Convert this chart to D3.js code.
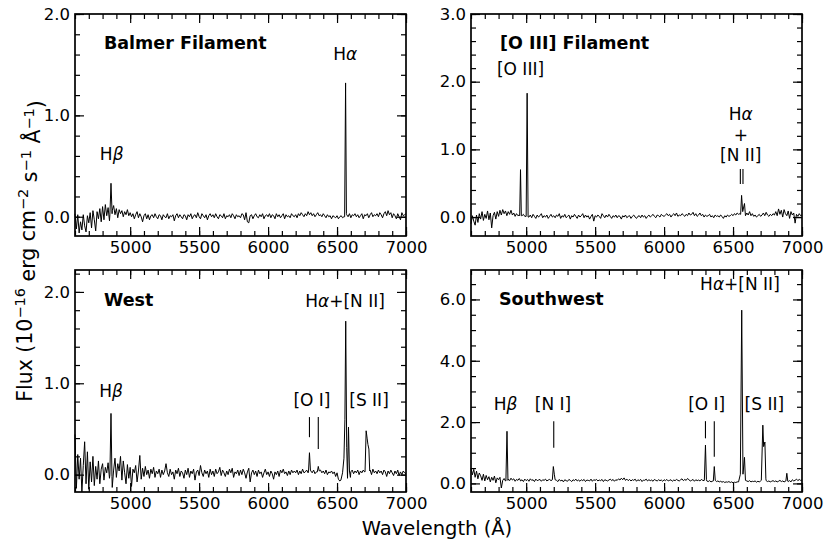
<!DOCTYPE html>
<html>
<head>
<meta charset="utf-8">
<script src="https://cdn.jsdelivr.net/npm/d3@7"></script>
<style>
  body { margin: 0; background: #fff; }
  text { font-family: "DejaVu Sans", sans-serif; fill: #000; }
</style>
</head>
<body>
<div id="chart"></div>
<script>
// Continuum samples: one value every 10 A starting at 4600 A (241 per spectrum)
const waveStart = 4600, waveStep = 10;

const balmerFlux = [
  0.03, -0.12, 0.02, -0.16, -0.05, -0.13, 0.02, -0.09, -0.15, 0.01, -0.06, 0.04, -0.11, 0.06, -0.03, -0.14, 0.05, -0.02, 0.08, -0.05,
  0.10, -0.03, 0.12, 0.01, 0.09, -0.04, 0.00, 0.06, 0.11, 0.02, 0.08, -0.01, 0.07, 0.03, 0.06, 0.00, 0.05, 0.02, 0.07, 0.01,
  0.04, 0.00, 0.03, -0.02, 0.02, 0.05, -0.01, 0.03, 0.00, -0.05, 0.01, 0.03, -0.02, 0.02, -0.03, 0.01, 0.02, -0.01, 0.03, 0.00,
  -0.02, 0.02, 0.01, -0.03, 0.02, 0.00, -0.01, 0.03, -0.02, 0.01, 0.00, 0.02, -0.04, 0.01, 0.03, -0.01, 0.02, 0.00, -0.02, 0.02,
  0.01, -0.03, 0.02, 0.00, 0.03, -0.02, 0.01, 0.02, -0.01, 0.04, 0.00, -0.02, 0.03, 0.01, -0.01, 0.02, -0.03, 0.01, 0.03, 0.00,
  0.02, -0.01, 0.03, 0.00, -0.02, 0.02, 0.01, -0.01, 0.03, -0.02, 0.01, 0.00, 0.02, -0.01, 0.03, 0.01, -0.02, 0.02, 0.00, 0.01,
  -0.01, 0.03, 0.02, -0.03, 0.04, -0.05, -0.06, 0.01, 0.02, -0.02, 0.01, 0.03, 0.00, -0.01, 0.02, 0.00, 0.03, -0.02, 0.01, 0.02,
  0.00, 0.03, -0.01, 0.02, 0.01, -0.02, 0.03, 0.00, 0.02, -0.01, 0.01, 0.03, -0.02, 0.02, 0.00, 0.01, -0.01, 0.03, 0.01, 0.00,
  0.02, -0.01, 0.03, 0.01, 0.04, 0.02, 0.00, 0.03, 0.01, 0.05, 0.02, 0.04, 0.01, 0.03, 0.00, 0.02, 0.04, 0.01, 0.02, 0.00,
  0.03, 0.01, -0.01, 0.02, 0.00, 0.01, -0.02, 0.01, 0.00, -0.01, 0.01, -0.02, 0.00, 0.01, -0.01, 0.00, 0.00, 0.02, 0.00, 0.03,
  -0.01, 0.02, 0.01, 0.03, 0.00, 0.02, -0.01, 0.01, 0.03, -0.02, 0.02, 0.01, 0.03, -0.01, 0.02, 0.04, 0.00, 0.02, 0.01, 0.03,
  0.00, 0.04, 0.02, -0.01, 0.03, 0.05, 0.01, 0.06, 0.02, 0.04, -0.01, 0.03, 0.01, -0.02, 0.03, 0.00, -0.03, 0.04, 0.01, 0.02,
  0.03
];
const balmerLines = [
  [[4853, 0.02], [4861, 0.33], [4869, 0.03]],
  [[6555, 0.00], [6562, 1.32], [6568, 0.03]]
];

const oiiiFlux = [
  -0.10, 0.02, -0.06, -0.12, 0.03, -0.08, 0.05, -0.03, 0.08, -0.05, 0.04, -0.02, 0.09, -0.04, 0.06, -0.16, 0.02, 0.07, -0.03, 0.08,
  0.01, 0.10, 0.03, 0.11, 0.05, 0.09, 0.02, 0.08, 0.04, 0.10, 0.03, 0.06, 0.01, 0.05, 0.02, 0.03, 0.00, 0.02, 0.04, 0.01,
  0.00, 0.00, 0.00, 0.03, -0.01, 0.04, 0.01, -0.02, 0.03, 0.00, 0.02, 0.05, -0.01, 0.02, 0.00, 0.03, -0.02, 0.01, 0.04, 0.00,
  0.02, -0.01, 0.03, 0.01, 0.05, -0.02, 0.02, 0.00, 0.04, -0.01, 0.01, 0.03, -0.03, 0.02, 0.00, 0.04, 0.01, -0.02, 0.03, 0.00,
  0.02, 0.05, -0.01, 0.03, 0.00, 0.02, -0.03, 0.01, 0.04, -0.06, 0.02, 0.00, 0.03, 0.01, -0.02, 0.05, 0.02, -0.01, 0.03, 0.00,
  0.04, 0.01, -0.02, 0.02, 0.00, 0.03, -0.01, 0.02, 0.01, -0.03, 0.02, 0.00, 0.03, -0.01, 0.01, 0.02, -0.02, 0.01, 0.03, 0.00,
  -0.02, 0.01, 0.02, -0.01, 0.03, 0.00, 0.02, -0.02, 0.01, 0.03, 0.00, 0.02, 0.04, 0.01, -0.01, 0.03, 0.02, 0.00, 0.04, 0.02,
  0.01, 0.03, 0.05, 0.02, 0.04, 0.00, 0.03, 0.05, 0.02, 0.06, 0.01, 0.03, 0.02, 0.05, 0.03, 0.01, 0.04, 0.02, 0.06, 0.03,
  0.04, 0.07, 0.02, 0.05, 0.01, 0.03, 0.06, 0.02, 0.04, 0.00, 0.03, 0.01, 0.02, 0.04, 0.00, 0.02, -0.01, 0.03, 0.01, 0.02,
  0.00, 0.03, 0.01, -0.02, 0.02, 0.00, 0.03, 0.01, 0.02, 0.04, 0.02, 0.05, 0.03, 0.06, 0.04, 0.05, 0.00, 0.00, 0.00, 0.00,
  0.06, 0.03, 0.08, 0.02, 0.05, 0.01, 0.03, 0.00, 0.02, 0.04, 0.01, 0.03, 0.06, 0.02, 0.07, 0.03, 0.01, 0.04, 0.02, 0.05,
  0.03, 0.08, 0.02, 0.12, 0.04, 0.10, 0.00, 0.11, 0.05, 0.02, 0.09, -0.02, 0.08, 0.03, 0.06, -0.09, 0.04, 0.01, 0.05, 0.02,
  0.03
];
const oiiiLines = [
  [[4953, 0.02], [4959, 0.70], [4965, 0.02]],
  [[5000, 0.01], [5007, 1.83], [5014, 0.00]],
  [[6555, 0.04], [6562, 0.32], [6570, 0.08], [6583, 0.20], [6590, 0.02]]
];

const westFlux = [
  0.44, -0.15, 0.22, -0.05, 0.18, -0.20, 0.10, 0.36, -0.10, 0.25, -0.16, 0.14, -0.08, 0.20, -0.12, 0.09, -0.05, 0.15, -0.10, 0.06,
  0.12, -0.06, 0.08, 0.02, 0.13, -0.04, 0.00, -0.14, 0.05, 0.18, -0.03, 0.12, 0.04, 0.20, -0.06, 0.15, 0.02, -0.10, 0.11, -0.04,
  0.08, -0.13, 0.06, 0.02, 0.10, -0.08, 0.04, 0.21, -0.05, 0.07, -0.02, 0.09, 0.00, 0.05, -0.04, 0.06, 0.01, 0.08, -0.03, 0.04,
  0.01, 0.06, -0.03, 0.05, 0.00, 0.04, 0.12, 0.02, -0.02, 0.06, 0.00, 0.03, -0.05, 0.05, 0.01, 0.07, -0.02, 0.04, 0.02, -0.04,
  0.05, 0.00, 0.07, -0.03, 0.04, 0.01, 0.06, -0.06, 0.03, 0.05, -0.01, 0.10, 0.02, -0.02, 0.05, 0.01, 0.04, -0.03, 0.06, 0.00,
  0.04, -0.02, 0.06, 0.01, 0.03, 0.08, -0.01, 0.05, 0.02, -0.02, 0.04, 0.00, 0.06, 0.02, 0.07, -0.03, 0.03, 0.01, 0.05, -0.01,
  0.05, 0.00, 0.06, 0.02, -0.04, 0.03, 0.07, -0.08, 0.02, 0.05, 0.00, 0.04, -0.02, 0.05, 0.01, 0.03, -0.03, 0.02, 0.06, 0.00,
  0.03, -0.02, 0.04, 0.01, -0.05, 0.03, 0.00, 0.04, -0.02, 0.05, 0.02, 0.06, 0.01, 0.03, -0.01, 0.04, 0.00, 0.05, 0.02, 0.04,
  0.02, 0.05, 0.00, 0.04, 0.01, 0.06, 0.02, 0.03, 0.05, 0.02, 0.00, 0.04, 0.02, 0.05, 0.01, 0.03, 0.00, 0.00, 0.05, 0.02,
  0.04, 0.01, 0.05, 0.00, 0.03, 0.02, 0.04, 0.01, 0.03, -0.02, 0.02, -0.05, -0.07, 0.00, 0.00, 0.00, 0.00, 0.00, 0.00, 0.00,
  0.03, 0.05, 0.01, 0.04, 0.02, 0.05, 0.00, 0.04, 0.02, 0.05, 0.03, 0.00, 0.00, 0.00, 0.05, 0.00, 0.06, 0.02, 0.04, 0.01,
  0.05, 0.02, 0.04, 0.00, 0.05, 0.03, -0.02, 0.04, 0.01, 0.05, 0.02, -0.01, 0.04, 0.01, 0.05, -0.01, 0.03, 0.00, 0.04, 0.02,
  0.01
];
const westLines = [
  [[4853, 0.00], [4861, 0.67], [4868, -0.02]],
  [[6293, 0.03], [6300, 0.24], [6307, 0.05]],
  [[6357, 0.03], [6364, 0.09], [6371, 0.04]],
  [[6528, -0.06], [6540, 0.02], [6550, 0.18], [6557, 0.60], [6563, 1.68],
   [6570, 0.30], [6576, -0.04], [6583, 0.52], [6590, 0.04], [6597, -0.03]],
  [[6703, 0.03], [6711, 0.48], [6718, 0.40], [6724, 0.33], [6731, 0.28], [6737, 0.04]]
];

const southwestFlux = [
  0.50, 0.28, 0.46, 0.20, 0.40, 0.15, 0.34, 0.25, 0.10, 0.30, 0.08, 0.26, 0.12, 0.22, 0.05, 0.20, 0.10, 0.24, 0.02, 0.18,
  0.12, 0.20, -0.15, 0.10, 0.16, 0.08, 0.00, 0.14, 0.09, 0.17, 0.11, 0.15, 0.07, 0.13, 0.10, 0.16, 0.08, 0.12, 0.06, 0.14,
  0.09, 0.13, 0.07, 0.15, 0.10, 0.12, 0.06, 0.14, 0.09, 0.11, 0.13, 0.07, 0.12, 0.10, 0.14, 0.08, 0.11, 0.13, 0.09, 0.00,
  0.00, 0.00, 0.10, 0.06, 0.13, 0.08, 0.11, 0.05, 0.12, 0.09, 0.07, 0.13, 0.10, 0.06, 0.12, 0.09, 0.14, 0.08, 0.11, 0.07,
  0.12, 0.09, 0.13, 0.06, 0.11, 0.10, 0.08, 0.14, 0.07, 0.12, 0.10, 0.13, 0.08, 0.11, 0.09, 0.13, 0.06, 0.12, 0.10, 0.08,
  0.11, 0.14, 0.09, 0.13, 0.07, 0.12, 0.10, 0.15, 0.11, 0.17, 0.12, 0.18, 0.10, 0.14, 0.09, 0.13, 0.08, 0.12, 0.10, 0.14,
  0.07, 0.12, 0.09, 0.13, 0.06, 0.11, 0.10, 0.14, 0.08, 0.12, 0.09, 0.11, 0.07, 0.13, 0.10, 0.08, 0.12, 0.09, 0.11, 0.07,
  0.12, 0.09, 0.13, 0.08, 0.10, 0.12, 0.07, 0.11, 0.09, 0.13, 0.10, 0.08, 0.12, 0.15, 0.09, 0.13, 0.10, 0.16, 0.12, 0.08,
  0.10, 0.13, 0.07, 0.12, 0.09, 0.11, 0.08, 0.13, 0.10, 0.09, 0.00, 0.08, 0.06, 0.09, 0.05, 0.07, 0.00, 0.00, 0.06, 0.08,
  0.05, 0.07, 0.04, 0.06, 0.03, 0.05, 0.04, 0.06, 0.03, 0.05, 0.02, 0.04, 0.03, 0.05, 0.00, 0.00, 0.00, 0.00, 0.00, 0.00,
  0.08, 0.06, 0.09, 0.05, 0.07, 0.06, 0.08, 0.04, 0.07, 0.05, 0.08, 0.00, 0.00, 0.00, 0.09, 0.06, 0.08, 0.05, 0.07, 0.09,
  0.06, 0.08, 0.05, 0.07, 0.10, 0.06, 0.08, 0.05, 0.07, 0.00, 0.06, 0.09, 0.05, 0.12, 0.08, 0.10, 0.14, 0.09, 0.13, 0.10,
  0.11
];
const southwestLines = [
  [[4853, 0.08], [4861, 1.70], [4868, 0.10]],
  [[5190, 0.12], [5197, 0.55], [5204, 0.30], [5210, 0.12]],
  [[6292, 0.10], [6300, 1.25], [6307, 0.12]],
  [[6357, 0.08], [6364, 0.55], [6371, 0.10]],
  [[6540, 0.05], [6553, 0.30], [6563, 5.65], [6572, 0.30], [6583, 0.85], [6590, 0.10]],
  [[6705, 0.10], [6716, 1.90], [6722, 1.20], [6731, 1.35], [6738, 0.15]],
  [[6883, 0.08], [6890, 0.33], [6897, 0.07]]
];

// Axis ticks
const waveMajor = [5000, 5500, 6000, 6500, 7000];
const waveMinor = d3.range(4600, 7001, 100);

// Merge continuum and line profiles into one sorted spectrum
function buildSpectrum(flux, lines) {
  const pts = flux.map((f, i) => [waveStart + i * waveStep, f])
    .filter(p => !lines.some(g => p[0] >= g[0][0] && p[0] <= g[g.length - 1][0]));
  lines.forEach(g => g.forEach(p => pts.push(p)));
  return pts.sort((a, b) => a[0] - b[0]);
}

const width = 830, height = 549;
const svg = d3.select("#chart").append("svg")
  .attr("width", width)
  .attr("height", height);

const panels = [
  { flux: balmerFlux, lines: balmerLines, left: 75, top: 14, yDomain: [-0.19, 2.0],
    yMajor: [0, 1, 2], yMinorStep: 0.2, title: "Balmer Filament", titleAt: [4810, 1.65],
    labels: [
      { parts: [["H"], ["α", true]], at: [6560, 1.55] },
      { parts: [["H"], ["β", true]], at: [4866, 0.56] }
    ],
    marks: [] },
  { flux: oiiiFlux, lines: oiiiLines, left: 471, top: 14, yDomain: [-0.28, 3.0],
    yMajor: [0, 1, 2, 3], yMinorStep: 0.2, title: "[O III] Filament", titleAt: [4810, 2.49],
    labels: [
      { parts: [["[O III]"]], at: [4959, 2.10] },
      { parts: [["H"], ["α", true]], at: [6556, 1.44] },
      { parts: [["+"]], at: [6556, 1.13] },
      { parts: [["[N II]"]], at: [6556, 0.83] }
    ],
    marks: [[6553, 0.71, 0.49], [6572, 0.71, 0.49]] },
  { flux: westFlux, lines: westLines, left: 75, top: 270, yDomain: [-0.19, 2.24],
    yMajor: [0, 1, 2], yMinorStep: 0.2, title: "West", titleAt: [4810, 1.85],
    labels: [
      { parts: [["H"], ["β", true]], at: [4861, 0.85] },
      { parts: [["[O I]"]], at: [6318, 0.75] },
      { parts: [["[S II]"]], at: [6732, 0.75] },
      { parts: [["H"], ["α", true], ["+[N II]"]], at: [6558, 1.84] }
    ],
    marks: [[6300, 0.63, 0.41], [6364, 0.63, 0.28]] },
  { flux: southwestFlux, lines: southwestLines, left: 471, top: 270, yDomain: [-0.28, 6.96],
    yMajor: [0, 2, 4, 6], yMinorStep: 0.5, title: "Southwest", titleAt: [4803, 5.83],
    labels: [
      { parts: [["H"], ["β", true]], at: [4851, 2.39] },
      { parts: [["[N I]"]], at: [5195, 2.39] },
      { parts: [["[O I]"]], at: [6309, 2.39] },
      { parts: [["[S II]"]], at: [6727, 2.39] },
      { parts: [["H"], ["α", true], ["+[N II]"]], at: [6550, 6.31] }
    ],
    marks: [[5200, 2.03, 1.16], [6300, 2.03, 1.47], [6364, 2.03, 0.87]] }
];

const panelW = 331, panelH = 222;

panels.forEach(p => {
  const g = svg.append("g").attr("transform", `translate(${p.left},${p.top})`);

  const x = d3.scaleLinear().domain([4600, 7000]).range([0, panelW]);
  const y = d3.scaleLinear().domain(p.yDomain).range([panelH, 0]);
  const yMinor = d3.range(0, p.yDomain[1] + 1e-9, p.yMinorStep);

  // Spectrum
  const spectrum = buildSpectrum(p.flux, p.lines);
  g.append("path")
    .datum(spectrum)
    .attr("fill", "none")
    .attr("stroke", "#000")
    .attr("stroke-width", 1.0)
    .attr("stroke-linejoin", "round")
    .attr("d", d3.line().x(d => x(d[0])).y(d => y(Math.max(d[1], p.yDomain[0]))));

  // Minor ticks, pointing inward on all four sides
  const minorAxes = [
    [d3.axisBottom(x).tickValues(waveMinor), `translate(0,${panelH})`],
    [d3.axisTop(x).tickValues(waveMinor), null],
    [d3.axisLeft(y).tickValues(yMinor), null],
    [d3.axisRight(y).tickValues(yMinor), `translate(${panelW},0)`]
  ];
  minorAxes.forEach(([axis, tr]) => {
    g.append("g").attr("transform", tr)
      .call(axis.tickSize(-5).tickFormat(""))
      .select(".domain").remove();
  });

  // Major ticks, labelled on bottom and left only
  const majorAxes = [
    [d3.axisBottom(x).tickValues(waveMajor).tickFormat(d3.format("d")).tickPadding(5), `translate(0,${panelH})`],
    [d3.axisTop(x).tickValues(waveMajor).tickFormat(""), null],
    [d3.axisLeft(y).tickValues(p.yMajor).tickFormat(d3.format(".1f")).tickPadding(5), null],
    [d3.axisRight(y).tickValues(p.yMajor).tickFormat(""), `translate(${panelW},0)`]
  ];
  majorAxes.forEach(([axis, tr]) => {
    const ga = g.append("g").attr("transform", tr)
      .call(axis.tickSizeInner(-9).tickSizeOuter(0));
    ga.select(".domain").remove();
    ga.selectAll("text")
      .attr("font-family", "DejaVu Sans")
      .attr("font-size", 16.5)
      .attr("fill", "#000");
  });
  g.selectAll(".tick line").attr("stroke", "#000").attr("stroke-width", 1.2);

  // Frame
  g.append("rect")
    .attr("width", panelW)
    .attr("height", panelH)
    .attr("fill", "none")
    .attr("stroke", "#000")
    .attr("stroke-width", 1.7);

  // Title
  g.append("text")
    .attr("x", x(p.titleAt[0]))
    .attr("y", y(p.titleAt[1]))
    .attr("font-size", 17.5)
    .attr("font-weight", "bold")
    .text(p.title);

  // Line labels
  p.labels.forEach(l => {
    const t = g.append("text")
      .attr("x", x(l.at[0]))
      .attr("y", y(l.at[1]))
      .attr("text-anchor", "middle")
      .attr("font-size", 17);
    l.parts.forEach(([s, italic]) => {
      t.append("tspan").attr("font-style", italic ? "italic" : "normal").text(s);
    });
  });

  // Tick marks pointing at lines
  g.selectAll(".mark")
    .data(p.marks)
    .enter().append("line")
    .attr("x1", d => x(d[0])).attr("x2", d => x(d[0]))
    .attr("y1", d => y(d[1])).attr("y2", d => y(d[2]))
    .attr("stroke", "#000")
    .attr("stroke-width", 1.1);
});

// Shared axis labels
svg.append("text")
  .attr("x", 437)
  .attr("y", 535)
  .attr("text-anchor", "middle")
  .attr("font-size", 19.5)
  .text("Wavelength (Å)");

const yl = svg.append("text")
  .attr("transform", "translate(32,251) rotate(-90)")
  .attr("text-anchor", "middle")
  .attr("font-size", 20.5);
const ylParts = [
  ["Flux (10", 0], ["−16", 1], [" erg cm", 0], ["−2", 1], [" s", 0], ["−1", 1], [" Å", 0], ["−1", 1], [")", 0]
];
ylParts.forEach(([s, sup], i) => {
  const prevSup = i > 0 ? ylParts[i - 1][1] : 0;
  yl.append("tspan")
    .attr("dy", sup ? "-0.45em" : (prevSup ? "0.45em" : null))
    .attr("font-size", sup ? 14.5 : 20.5)
    .text(s);
});
</script>
</body>
</html>
